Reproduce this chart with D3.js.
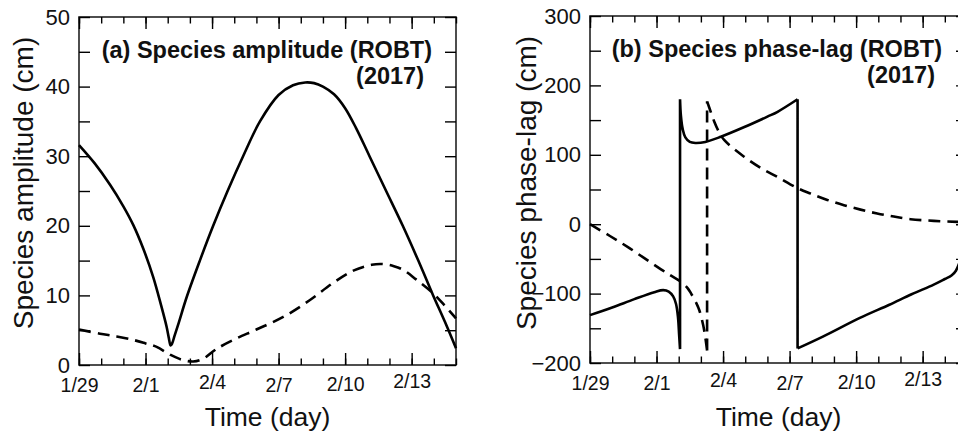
<!DOCTYPE html>
<html>
<head>
<meta charset="utf-8">
<script src="https://cdn.jsdelivr.net/npm/d3@7"></script>
<style>
  body { margin: 0; background: #fff; }
  text { font-family: "Liberation Sans", Arial, sans-serif; fill: #111; }
</style>
</head>
<body>
<script>
// days counted from 1/29 (2017)
const tickDays = [0, 3, 6, 9, 12, 15];
const tickLabels = ["1/29", "2/1", "2/4", "2/7", "2/10", "2/13"];

const ampTicks = [0, 10, 20, 30, 40, 50];
const ampMinor = [5, 15, 25, 35, 45];
const phaseTicks = [-200, -100, 0, 100, 200, 300];
const phaseMinor = [-150, -50, 50, 150, 250];

// (a) amplitude, solid and dashed species
const ampSolid = [
  [0, 31.6], [0.7, 29.0], [1.4, 25.9], [2.0, 22.8], [2.45, 20.1], [2.9, 16.7],
  [3.35, 12.6], [3.7, 8.6], [3.95, 5.5], [4.05, 3.9], [4.13, 2.8], [4.2, 3.1],
  [4.3, 4.1], [4.5, 6.1], [4.85, 9.7], [5.45, 15.0], [6.05, 20.0], [6.7, 25.0],
  [7.4, 30.0], [8.16, 35.0], [9.0, 38.8], [9.65, 40.2], [10.2, 40.6], [10.6, 40.5],
  [11.0, 40.0], [11.5, 38.9], [12.0, 36.9], [12.5, 34.0], [13.1, 30.0], [13.85, 25.0],
  [14.6, 20.0], [15.3, 15.0], [15.97, 10.0], [16.5, 6.2], [17, 2.4]
];
const ampDashed = [
  [0, 5.1], [0.95, 4.5], [1.7, 4.1], [2.45, 3.6], [3.0, 3.1], [3.5, 2.6], [4.1, 1.5],
  [4.6, 0.8], [5.15, 0.5], [5.6, 0.9], [6.2, 2.3], [6.96, 3.6], [8.0, 5.1],
  [9.21, 6.9], [10.4, 9.3], [11.46, 11.8], [12.4, 13.6], [13.2, 14.4], [13.7, 14.5],
  [14.2, 14.2], [14.6, 13.7], [15.2, 12.3], [15.97, 10.3], [16.5, 8.5], [17, 6.7]
];

// (b) phase-lag, solid and dashed species (jumps repeat the same day)
const phaseSolid = [
  [0, -131], [1.0, -120], [2.0, -108], [2.9, -98], [3.3, -95], [3.55, -97],
  [3.75, -104], [3.88, -115], [3.97, -135], [4.02, -160], [4.06, -180],
  [4.06, 180], [4.1, 156], [4.18, 137], [4.3, 125], [4.5, 118.5], [4.75, 117],
  [5.2, 118.5], [5.9, 126], [6.96, 140], [8.0, 155], [8.46, 162], [9.36, 180],
  [9.36, -179], [10.5, -162], [12.17, -135], [13.5, -116], [14.5, -101],
  [15.5, -87], [16.0, -79], [16.3, -74], [16.5, -67], [16.7, -52], [17, -25]
];
const phaseDashed = [
  [0, 0], [0.9, -17], [1.71, -33], [2.5, -50], [3.2, -65], [3.6, -73], [4.1, -83],
  [4.4, -92], [4.56, -100], [4.8, -114], [4.93, -124], [5.1, -145], [5.2, -163],
  [5.28, -182], [5.28, 177], [5.4, 166], [5.6, 148], [5.8, 134], [6.06, 121],
  [6.96, 97], [7.7, 81], [8.46, 68], [9.36, 52], [9.96, 44], [10.7, 35],
  [11.45, 27.4], [12.2, 21], [12.95, 15.4], [13.7, 11], [14.45, 7.2],
  [15.5, 4.8], [16.55, 3.4], [17, 3]
];

const svg = d3.select("body").append("svg")
  .attr("width", 958)
  .attr("height", 436);

function splitAtJumps(data) {
  // break a series where two neighbours share the same day
  const parts = [[data[0]]];
  for (let i = 1; i < data.length; i++) {
    if (data[i][0] === data[i - 1][0]) parts.push([]);
    parts[parts.length - 1].push(data[i]);
  }
  return parts;
}

function styleTicks(sel) {
  sel.select(".domain").remove();
  sel.selectAll(".tick line")
    .attr("stroke", "#000")
    .attr("stroke-width", 1.4);
}

function drawPanel(opt) {
  const w = 377, h = opt.height;
  const g = svg.append("g").attr("transform", `translate(${opt.left},${opt.top})`);

  const x = d3.scaleLinear().domain([0, 17]).range([0, w]);
  const y = d3.scaleLinear().domain(opt.yDomain).range([h, 0]);

  const nudge = [0, 0, -3, 0, -1, -4];

  // frame first, ticks on top of it
  g.append("rect")
    .attr("width", w).attr("height", h)
    .attr("fill", "none").attr("stroke", "#222").attr("stroke-width", 1.6);

  // x axis: minor every day, major every 3 days
  g.append("g").attr("transform", `translate(0,${h})`)
    .call(d3.axisBottom(x).tickValues(d3.range(0, 18)).tickSize(-6.5).tickSizeOuter(0).tickFormat(""))
    .call(styleTicks);
  const xb = g.append("g").attr("transform", `translate(0,${h})`)
    .call(d3.axisBottom(x).tickValues(tickDays).tickSize(-12).tickSizeOuter(0).tickPadding(13.5)
      .tickFormat((d, i) => tickLabels[i]))
    .call(styleTicks);
  xb.selectAll("text").style("font-size", "19.5px")
    .attr("transform", (d, i) => `translate(0,${nudge[i]})`);
  g.append("g")
    .call(d3.axisTop(x).tickValues(d3.range(0, 18)).tickSize(-6.5).tickSizeOuter(0).tickFormat(""))
    .call(styleTicks);
  g.append("g")
    .call(d3.axisTop(x).tickValues(tickDays).tickSize(-12).tickSizeOuter(0).tickFormat(""))
    .call(styleTicks);

  // y axes, left with labels and mirrored on the right
  const yl = g.append("g")
    .call(d3.axisLeft(y).tickValues(opt.yTicks).tickSize(-11).tickSizeOuter(0).tickPadding(9))
    .call(styleTicks);
  yl.selectAll("text").style("font-size", "22px");
  g.append("g")
    .call(d3.axisLeft(y).tickValues(opt.yMinor).tickSize(-11).tickSizeOuter(0).tickFormat(""))
    .call(styleTicks);
  g.append("g").attr("transform", `translate(${w},0)`)
    .call(d3.axisRight(y).tickValues(opt.yTicks.concat(opt.yMinor)).tickSize(-11).tickSizeOuter(0).tickFormat(""))
    .call(styleTicks);

  // curves
  const smooth = d3.line().x(d => x(d[0])).y(d => y(d[1])).curve(d3.curveCatmullRom.alpha(0.5));
  const straight = d3.line().x(d => x(d[0])).y(d => y(d[1]));

  opt.series.forEach(s => {
    const parts = splitAtJumps(s.data);
    let path = "";
    parts.forEach((p, i) => {
      if (i > 0) path += straight([parts[i - 1][parts[i - 1].length - 1], p[0]]);
      path += smooth(p);
    });
    g.append("path")
      .attr("d", path)
      .attr("fill", "none")
      .attr("stroke", "#000")
      .attr("stroke-width", 2.6)
      .attr("stroke-linejoin", "round")
      .attr("stroke-dasharray", s.dashed ? "12,7" : null);
  });

  // titles
  g.append("text")
    .attr("x", opt.titleX).attr("y", 41)
    .style("font-size", "23.5px").style("font-weight", "bold")
    .text(opt.title);
  g.append("text")
    .attr("x", 345).attr("y", 67)
    .attr("text-anchor", "end")
    .style("font-size", "23.5px").style("font-weight", "bold")
    .text("(2017)");

  // axis titles
  g.append("text")
    .attr("x", w / 2).attr("y", 426 - opt.top)
    .attr("text-anchor", "middle")
    .style("font-size", "26.5px")
    .text("Time (day)");
  g.append("text")
    .attr("transform", `translate(${opt.yLabelX - opt.left},${183 - opt.top}) rotate(-90)`)
    .attr("text-anchor", "middle")
    .style("font-size", "28px")
    .text(opt.yLabel);
}

drawPanel({
  left: 79, top: 17, height: 348,
  yDomain: [0, 50], yTicks: ampTicks, yMinor: ampMinor,
  title: "(a) Species amplitude (ROBT)", titleX: 22.7,
  yLabel: "Species amplitude (cm)", yLabelX: 33,
  series: [{ data: ampSolid, dashed: false }, { data: ampDashed, dashed: true }]
});

drawPanel({
  left: 590, top: 16, height: 347,
  yDomain: [-200, 300], yTicks: phaseTicks, yMinor: phaseMinor,
  title: "(b) Species phase-lag (ROBT)", titleX: 21.7,
  yLabel: "Species phase-lag (cm)", yLabelX: 536,
  series: [{ data: phaseSolid, dashed: false }, { data: phaseDashed, dashed: true }]
});
</script>
</body>
</html>
